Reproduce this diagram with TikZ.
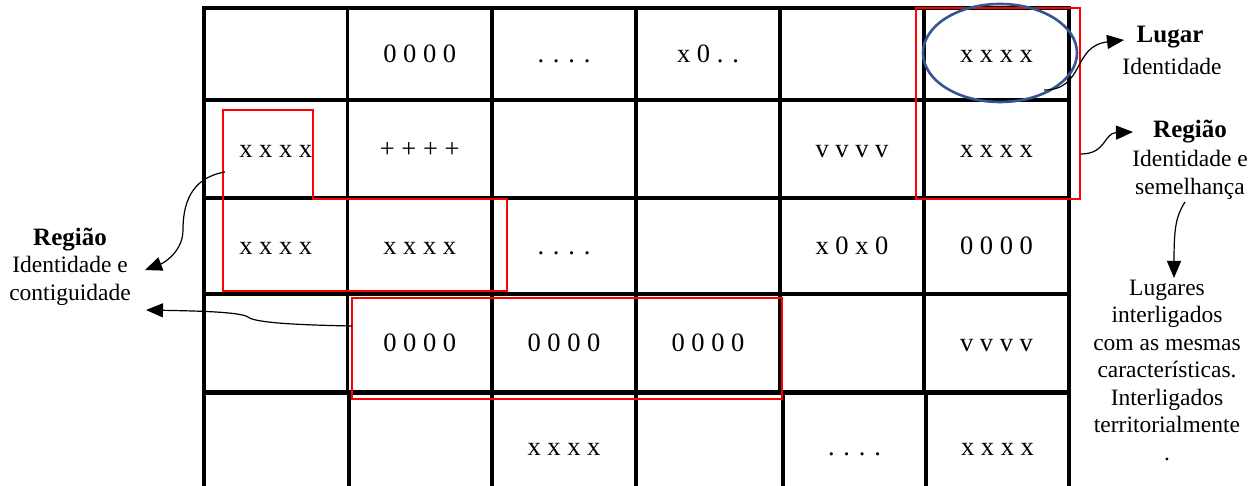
\documentclass[tikz,border=0pt]{standalone}
\usepackage{fontspec}
\setmainfont{Liberation Serif}
\usetikzlibrary{arrows.meta}
\definecolor{regred}{RGB}{255,0,0}
\definecolor{elblue}{RGB}{52,86,145}
\tikzset{
  cellbox/.style={draw=black, line width=3.2pt, inner sep=0pt, text height=17pt, text depth=0pt, font=\fontsize{26.5}{30}\selectfont},
  redline/.style={draw=regred, line width=2.8pt},
  arr/.style={draw=black, line width=1.2pt, -{Triangle[length=17pt,width=14pt]}},
  lbltitle/.style={font=\fontsize{25}{30}\selectfont\bfseries, inner sep=0pt},
  lbltext/.style={font=\fontsize{23.5}{27.5}\selectfont, align=center, inner sep=0pt},
}
\newcommand\gcell[6]{\node[cellbox, minimum width={#4pt-#2pt}, minimum height={#5pt-#3pt}] (#1) at ({(#2+#4)/2},{(#3+#5)/2}) {#6};}
\begin{document}
\begin{tikzpicture}[x=1pt,y=-1pt]
\useasboundingbox (0,0) rectangle (1256,486);
\fill[white] (0,0) rectangle (1256,486);
\clip (0,0) rectangle (1256,486);
% row 1
\gcell{a1}{204}{8}{347.5}{100}{}
\gcell{a2}{347.5}{8}{492}{100}{0 0 0 0}
\gcell{a3}{492}{8}{636}{100}{. . . .}
\gcell{a4}{636}{8}{780}{100}{x 0 . .}
\gcell{a5}{780}{8}{924}{100}{}
\gcell{a6}{924}{8}{1069}{100}{x x x x}
% row 2
\gcell{b1}{204}{100}{347.5}{198}{x x x x}
\gcell{b2}{347.5}{100}{492}{198}{+ + + +}
\gcell{b3}{492}{100}{636}{198}{}
\gcell{b4}{636}{100}{780}{198}{}
\gcell{b5}{780}{100}{924}{198}{v v v v}
\gcell{b6}{924}{100}{1069}{198}{x x x x}
% row 3
\gcell{c1}{204}{198}{347.5}{294}{x x x x}
\gcell{c2}{347.5}{198}{492}{294}{x x x x}
\gcell{c3}{492}{198}{636}{294}{. . . .}
\gcell{c4}{636}{198}{780}{294}{}
\gcell{c5}{780}{198}{924}{294}{x 0 x 0}
\gcell{c6}{924}{198}{1069}{294}{0 0 0 0}
% row 4
\gcell{d1}{204}{294}{347.5}{392}{}
\gcell{d2}{347.5}{294}{492}{392}{0 0 0 0}
\gcell{d3}{492}{294}{636}{392}{0 0 0 0}
\gcell{d4}{636}{294}{780}{392}{0 0 0 0}
\gcell{d5}{780}{294}{924}{392}{}
\gcell{d6}{924}{294}{1069}{392}{v v v v}
% row 5
\gcell{e1}{204}{393}{349}{500}{}
\gcell{e2}{349}{393}{492}{500}{}
\gcell{e3}{492}{393}{636}{500}{x x x x}
\gcell{e4}{636}{393}{783}{500}{}
\gcell{e5}{783}{393}{926}{500}{. . . .}
\gcell{e6}{926}{393}{1069}{500}{x x x x}
% red regions
\draw[redline] (223,110) -- (313,110) -- (313,199) -- (507,199) -- (507,291) -- (223,291) -- cycle;
\draw[redline] (916,8) rectangle (1080,199);
\draw[redline] (352,298) rectangle (782,399);
% place ellipse
\draw[elblue, line width=2.6pt] (1000,53) ellipse [x radius=77, y radius=49];
% labels
\node[lbltitle] (lugarT) at (1170,37) {Lugar};
\node[lbltext] (lugarD) at (1172,66) {Identidade};
\node[lbltitle] (regRT) at (1190,132) {Região};
\node[lbltext] (regRD) at (1190,175) {Identidade e\\semelhança};
\node[lbltext] (lugares) at (1167,370) {Lugares\\interligados\\com as mesmas\\características.\\Interligados\\territorialmente\\.};
\node[lbltitle] (regLT) at (70,240) {Região};
\node[lbltext] (regLD) at (70,281) {Identidade e\\contiguidade};
% connector end points
\coordinate (lugS) at (1044,90);
\coordinate (lugE) at (1124,40);
\coordinate (regRS) at (1081,154);
\coordinate (regRE) at (1133,132);
\coordinate (downS) at (1185,202);
\coordinate (downE) at (1174,278);
\coordinate (regLS) at (225,172);
\coordinate (regLE) at (145,270);
\coordinate (botS) at (352,326);
\coordinate (botE) at (146,310);
% connectors
\draw[arr] (lugS) .. controls (1085,90) and (1072,46) .. (lugE);
\draw[arr] (regRS) .. controls (1106,154) and (1104,133) .. (regRE);
\draw[arr] (downS) .. controls (1176,216) and (1174,228) .. (downE);
\draw[arr] (regLS) .. controls (190,178) and (183,205) .. (183,230) .. controls (183,250) and (166,262) .. (regLE);
\draw[arr] (botS) .. controls (300,325) and (255,323) .. (248,317) .. controls (240,312) and (200,311) .. (botE);
\end{tikzpicture}
\end{document}
